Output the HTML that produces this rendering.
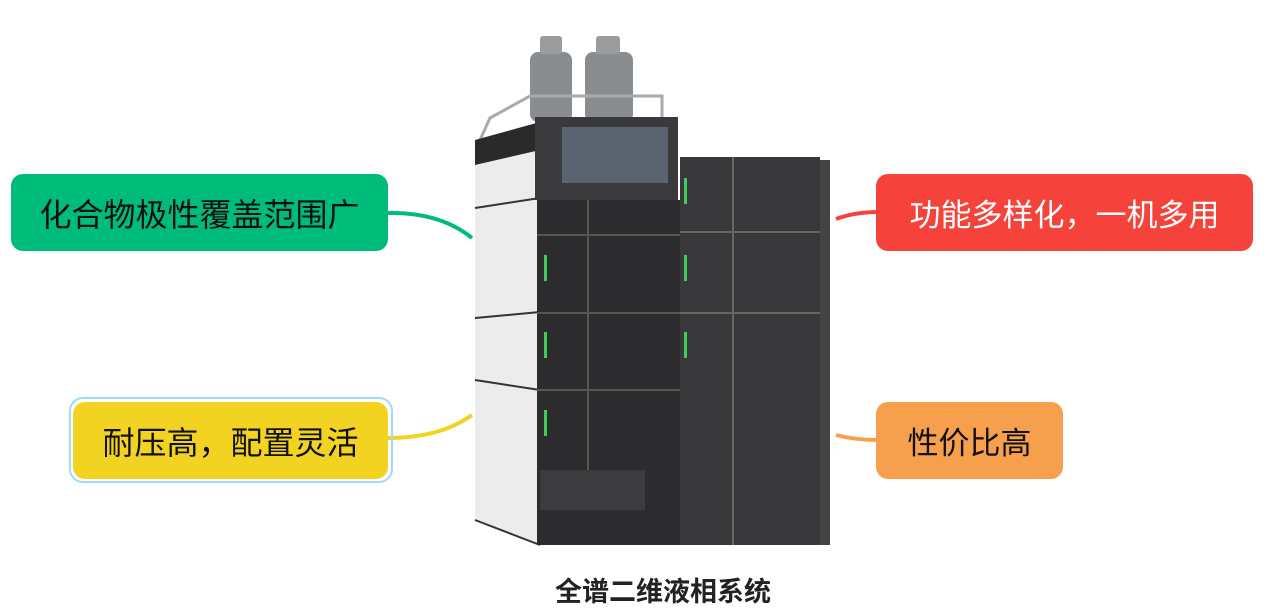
<!DOCTYPE html>
<html><head><meta charset="utf-8"><style>
html,body{margin:0;padding:0;background:#fff;}
body{width:1267px;height:615px;position:relative;overflow:hidden;font-family:"Liberation Sans","Noto Sans CJK SC",sans-serif;}
.b{position:absolute;border-radius:12px;color:#111;font-size:31px;display:flex;align-items:center;justify-content:center;}
</style></head><body>
<svg width="1267" height="615" style="position:absolute;left:0;top:0">
<g fill="none" stroke-width="4">
<path d="M388 213 Q440 212 472 238" stroke="#00bc7a"/>
<path d="M388 438 Q440 438 472 415" stroke="#f2d322"/>
<path d="M836 219 Q855 212 878 212" stroke="#f5433b"/>
<path d="M836 435 Q855 440 878 440" stroke="#f6a04e"/>
</g>
<rect x="530" y="52" width="42" height="70" rx="8" fill="#8a8d90"/>
<rect x="540" y="36" width="22" height="18" rx="3" fill="#9a9c9e"/>
<rect x="585" y="52" width="48" height="70" rx="8" fill="#8a8d90"/>
<rect x="596" y="36" width="24" height="18" rx="3" fill="#9a9c9e"/>
<path d="M480 140 L490 118 L530 96 L662 96 L662 120" fill="none" stroke="#aaa" stroke-width="3"/>
<polygon points="475,140 540,122 540,545 475,520" fill="#ececec"/>
<polygon points="475,140 540,122 540,150 475,165" fill="#2a2a2a"/>
<g stroke="#333" stroke-width="2"><line x1="475" y1="208" x2="540" y2="198"/><line x1="475" y1="318" x2="540" y2="312"/><line x1="475" y1="380" x2="540" y2="390"/><line x1="475" y1="520" x2="540" y2="545"/></g>
<rect x="535" y="117" width="143" height="83" fill="#3a3a3c"/>
<rect x="562" y="127" width="106" height="56" fill="#5a6470"/>
<rect x="537" y="200" width="143" height="345" fill="#2c2c2e"/>
<g stroke="#555" stroke-width="2"><line x1="537" y1="235" x2="680" y2="235"/><line x1="537" y1="313" x2="680" y2="313"/><line x1="537" y1="390" x2="680" y2="390"/><line x1="588" y1="200" x2="588" y2="500"/></g>
<rect x="540" y="470" width="105" height="40" fill="#3c3c3e"/>
<rect x="680" y="157" width="140" height="388" fill="#38383a"/>
<g stroke="#666" stroke-width="2"><line x1="680" y1="232" x2="820" y2="232"/><line x1="680" y1="313" x2="820" y2="313"/><line x1="733" y1="157" x2="733" y2="545"/></g>
<rect x="820" y="160" width="10" height="385" fill="#444"/>
<g fill="#3ecf5a"><rect x="544" y="255" width="3" height="26"/><rect x="544" y="332" width="3" height="26"/><rect x="544" y="410" width="3" height="26"/><rect x="684" y="178" width="3" height="26"/><rect x="684" y="255" width="3" height="26"/><rect x="684" y="332" width="3" height="26"/></g>
</svg>
<div class="b" style="left:11px;top:174px;width:377px;height:77px;background:#00bc7a;font-size:32px;">化合物极性覆盖范围广</div>
<div style="position:absolute;left:69px;top:397px;width:320px;height:82px;border:2px solid #9ddcf7;border-radius:14px;"></div>
<div class="b" style="left:73px;top:402px;width:315px;height:77px;background:#f2d322;font-size:32px;">耐压高，配置灵活</div>
<div class="b" style="left:876px;top:174px;width:377px;height:77px;background:#f5433b;color:#fff;">功能多样化，一机多用</div>
<div class="b" style="left:876px;top:402px;width:187px;height:77px;background:#f6a04e;">性价比高</div>
<div style="position:absolute;left:513px;top:570px;width:300px;text-align:center;font-size:27px;font-weight:bold;color:#222;">全谱二维液相系统</div>
</body></html>
